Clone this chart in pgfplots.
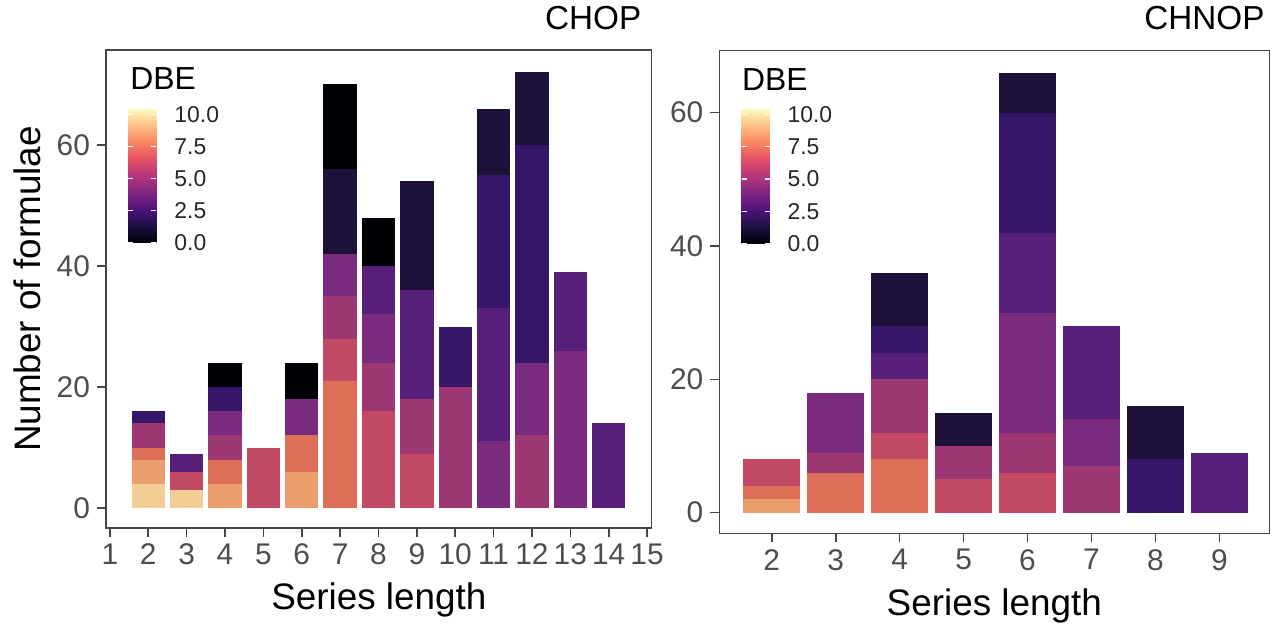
\documentclass[border=0pt]{standalone}
\usepackage{fontspec}
\setmainfont{Liberation Sans}
\usepackage{pgfplots}
\pgfplotsset{compat=1.18}

% DBE levels
\definecolor{d0}{RGB}{0,0,4}
\definecolor{d1}{RGB}{29,17,58}
\definecolor{d2}{RGB}{54,22,104}
\definecolor{d3}{RGB}{87,30,122}
\definecolor{d4}{RGB}{122,43,125}
\definecolor{d5}{RGB}{158,56,116}
\definecolor{d6}{RGB}{194,73,100}
\definecolor{d7}{RGB}{221,110,88}
\definecolor{d8}{RGB}{233,158,108}
\definecolor{d9}{RGB}{242,206,148}
\definecolor{boxgray}{RGB}{70,70,70}
\definecolor{labgray}{RGB}{77,77,77}

\pgfplotsset{colormap={magma}{rgb255=(0,0,4) rgb255=(28,16,68) rgb255=(79,18,123)
  rgb255=(129,37,129) rgb255=(181,54,122) rgb255=(229,80,100) rgb255=(251,135,97)
  rgb255=(254,194,135) rgb255=(252,253,191)}}

\pgfplotsset{
  panel/.style={
    scale only axis, anchor=south west, enlargelimits=false,
    axis line style={draw=boxgray, line width=0.6bp},
    tick align=outside, major tick length=4.5bp,
    tick style={draw=boxgray, line width=0.8bp},
    xtick pos=left, ytick pos=left,
    ticklabel style={font=\fontsize{15}{15}\selectfont, text=labgray},
    /pgf/number format/assume math mode=true,
    label style={font=\fontsize{18.5}{18.5}\selectfont},
    xlabel={Series length},
    xlabel style={at={(axis description cs:0.5,0)}, anchor=base, yshift=-40.5bp},
    ytick={0,20,40,60},
    title style={at={(axis description cs:1,1)}, anchor=base east, inner sep=0pt,
      font=\fontsize{16.7}{16.7}\selectfont},
    colormap name=magma, point meta min=0, point meta max=10.5,
    colorbar,
    colorbar style={
      at={(parent axis.north west)}, anchor=north west,
      scale only axis, width=14bp, height=67.5bp,
      axis line style={draw=none},
      ytick={0,2.5,5,7.5,10}, yticklabels={0.0,2.5,5.0,7.5,10.0},
      yticklabel style={font=\fontsize{11.5}{11.5}\selectfont, text=black!85, xshift=5.5bp},
      tick align=inside, major tick length=2.5bp,
      ytick style={draw=white, line width=0.6bp},
      ytick pos=both, yticklabel pos=right,
    },
  },
}
\newcommand{\bw}{0.87}
% one stacked segment: x, cumulative top, colour (drawn from the top down)
\newcommand{\seg}[3]{\addplot[ybar, bar width=\bw, bar shift=0pt, draw=none, fill=#3] coordinates {(#1,#2)};}

\begin{document}
\begin{tikzpicture}
\useasboundingbox (0,0) rectangle (637.5bp,312bp);

\begin{axis}[panel,
  at={(53bp,48bp)}, width=272.85bp, height=239bp,
  xmin=0.9, xmax=15.12, ymin=-3.3, ymax=75.7,
  xtick={1,...,15},
  title={CHOP}, title style={xshift=-5bp, yshift=4.15bp},
  ylabel={Number of formulae},
  ylabel style={at={(axis description cs:0,0.5)}, anchor=base, yshift=32.7bp},
  colorbar style={xshift=2.7bp, yshift=-29bp},
]
\seg{2}{16}{d2} \seg{2}{14}{d5} \seg{2}{10}{d7} \seg{2}{8}{d8} \seg{2}{4}{d9}
\seg{3}{9}{d3} \seg{3}{6}{d6} \seg{3}{3}{d9}
\seg{4}{24}{d0} \seg{4}{20}{d2} \seg{4}{16}{d4} \seg{4}{12}{d5} \seg{4}{8}{d7} \seg{4}{4}{d8}
\seg{5}{10}{d6}
\seg{6}{24}{d0} \seg{6}{18}{d4} \seg{6}{12}{d7} \seg{6}{6}{d8}
\seg{7}{70}{d0} \seg{7}{56}{d1} \seg{7}{42}{d4} \seg{7}{35}{d5} \seg{7}{28}{d6} \seg{7}{21}{d7}
\seg{8}{48}{d0} \seg{8}{40}{d3} \seg{8}{32}{d4} \seg{8}{24}{d5} \seg{8}{16}{d6}
\seg{9}{54}{d1} \seg{9}{36}{d3} \seg{9}{18}{d5} \seg{9}{9}{d6}
\seg{10}{30}{d2} \seg{10}{20}{d5}
\seg{11}{66}{d1} \seg{11}{55}{d2} \seg{11}{33}{d3} \seg{11}{11}{d4}
\seg{12}{72}{d1} \seg{12}{60}{d2} \seg{12}{24}{d4} \seg{12}{12}{d5}
\seg{13}{39}{d3} \seg{13}{26}{d4}
\seg{14}{14}{d3}
\node[anchor=base west, inner sep=0pt, font=\fontsize{16}{16}\selectfont]
  at (rel axis cs:0,1) [xshift=12bp, yshift=-19.65bp] {DBE};
\end{axis}

\renewcommand{\bw}{0.885}
\begin{axis}[panel,
  at={(359.65bp,45.35bp)}, width=275bp, height=241.3bp,
  xmin=1.18, xmax=9.78, ymin=-3.1, ymax=69.3,
  xtick={2,...,9},
  title={CHNOP}, title style={xshift=-2.2bp, yshift=4.5bp},
  xlabel style={yshift=-0.5bp},
  colorbar style={xshift=2.6bp, yshift=-28.8bp},
]
\seg{2}{8}{d6} \seg{2}{4}{d7} \seg{2}{2}{d8}
\seg{3}{18}{d4} \seg{3}{9}{d5} \seg{3}{6}{d7}
\seg{4}{36}{d1} \seg{4}{28}{d2} \seg{4}{24}{d3} \seg{4}{20}{d5} \seg{4}{12}{d6} \seg{4}{8}{d7}
\seg{5}{15}{d1} \seg{5}{10}{d5} \seg{5}{5}{d6}
\seg{6}{66}{d1} \seg{6}{60}{d2} \seg{6}{42}{d3} \seg{6}{30}{d4} \seg{6}{12}{d5} \seg{6}{6}{d6}
\seg{7}{28}{d3} \seg{7}{14}{d4} \seg{7}{7}{d5}
\seg{8}{16}{d1} \seg{8}{8}{d2}
\seg{9}{9}{d3}
\node[anchor=base west, inner sep=0pt, font=\fontsize{16}{16}\selectfont]
  at (rel axis cs:0,1) [xshift=11.2bp, yshift=-19.65bp] {DBE};
\end{axis}
\end{tikzpicture}
\end{document}
